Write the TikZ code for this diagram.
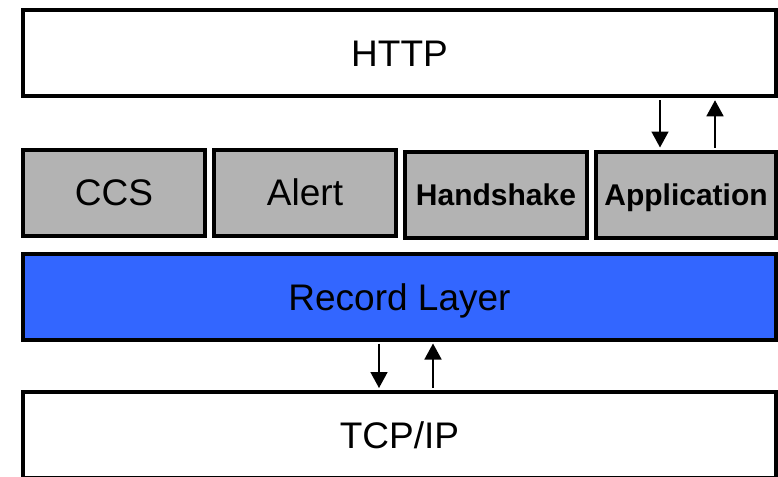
\documentclass[tikz,border=0pt]{standalone}
\usepackage{fontspec}
\setmainfont{Liberation Sans}
\usetikzlibrary{arrows.meta}
\definecolor{layergray}{HTML}{B3B3B3}
\definecolor{recordblue}{HTML}{3366FF}
\tikzset{
  layer/.style={draw,line width=4pt,inner sep=0pt,minimum height=86pt,text height=26.5pt,text depth=0pt,font=\fontsize{37}{42}\selectfont},
  proto/.style={layer,fill=layergray,minimum width=182pt},
  bproto/.style={proto,text height=21.5pt,font=\fontsize{30}{36}\selectfont\bfseries},
  flow/.style={line width=1.6pt,-{Triangle[length=16pt,width=17pt]}}
}
\begin{document}
\begin{tikzpicture}[x=1pt,y=-1pt]
  \useasboundingbox (0,0) rectangle (778,476);
  \begin{scope}
    \clip (0,0) rectangle (778,476);
    \node[layer,minimum width=753pt] (http) at (399.5,53.25) {HTTP};
    \node[proto] (ccs) at (114,192.5) {CCS};
    \node[proto] (alert) at (305,192.5) {Alert};
    \node[bproto] (hs) at (496,194.5) {Handshake};
    \node[bproto,minimum width=180pt] (app) at (686,194.5) {Application};
    \node[layer,fill=recordblue,minimum width=753pt,minimum height=85.5pt] (rec) at (399.5,296.75) {Record Layer};
    \node[layer,minimum width=753pt] (tcp) at (399.5,435) {TCP/IP};
  \end{scope}
  % up and down between the layers
  \coordinate (a1) at (660,0);
  \coordinate (a2) at (715,0);
  \coordinate (b1) at (379,0);
  \coordinate (b2) at (433,0);
  \draw[flow,shorten <=2pt,shorten >=2pt] (http.south -| a1) -- (app.north -| a1);
  \draw[flow,shorten <=2pt,shorten >=2pt] (app.north -| a2) -- (http.south -| a2);
  \draw[flow,shorten <=2pt,shorten >=2pt] (rec.south -| b1) -- (tcp.north -| b1);
  \draw[flow,shorten <=2pt,shorten >=2pt] (tcp.north -| b2) -- (rec.south -| b2);
\end{tikzpicture}
\end{document}
